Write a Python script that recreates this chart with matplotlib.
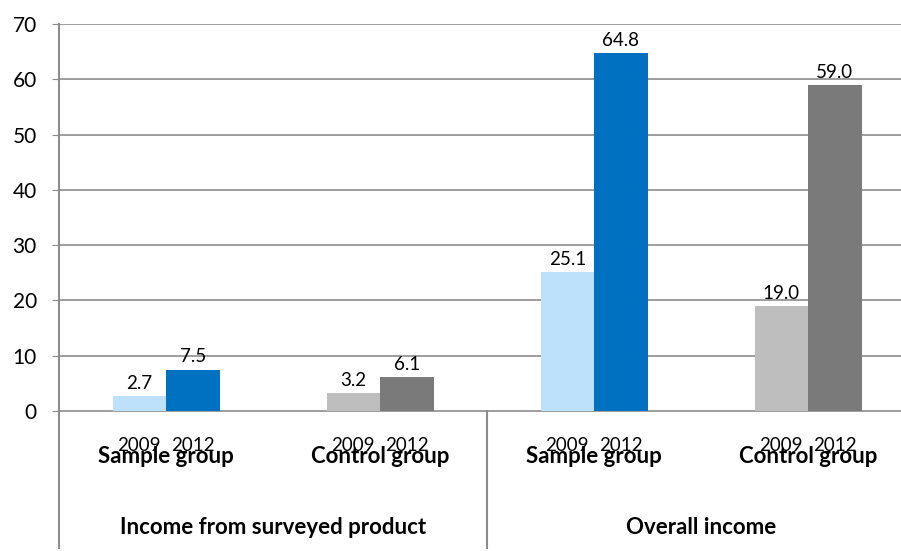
import matplotlib.pyplot as plt
import numpy as np

# data
groups = ["Income from surveyed product", "Overall income"]
categories = ["Sample group", "Control group", "Sample group", "Control group"]
years = ["2009", "2012"]
values_2009 = [2.7, 3.2, 25.1, 19.0]
values_2012 = [7.5, 6.1, 64.8, 59.0]

light = ["#BDE1FB", "#BEBEBE", "#BDE1FB", "#BEBEBE"]
dark = ["#0070C0", "#7A7A7A", "#0070C0", "#7A7A7A"]
grid_col = "#8C8C8C"

plt.rcParams['font.family'] = ['Lato', 'DejaVu Sans']

fig = plt.figure(figsize=(9.01, 5.51), dpi=100)
ax = fig.add_axes([59 / 901, 140 / 551, 842 / 901, 387 / 551])

x = np.arange(len(categories))
w = 0.25
b1 = ax.bar(x - w / 2, values_2009, w, color=light, zorder=3)
b2 = ax.bar(x + w / 2, values_2012, w, color=dark, zorder=3)

for bars, vals in ((b1, values_2009), (b2, values_2012)):
    for r, v in zip(bars, vals):
        ax.annotate(f"{v:.1f}", (r.get_x() + r.get_width() / 2, v),
                    xytext=(0, 3), textcoords="offset points",
                    ha="center", va="bottom", fontsize=13.5, zorder=4)

ax.set_xlim(-0.5, -0.5 + 842 / 214)
ax.set_ylim(0, 70)
ax.set_yticks(range(0, 71, 10))
ax.tick_params(axis="y", length=5, color=grid_col, labelsize=15, pad=11)
ax.tick_params(axis="x", bottom=False, labelbottom=False)
for yv in range(10, 71, 10):
    ax.axhline(yv, color=grid_col, lw=1.2, zorder=1)

for s in ("top", "right"):
    ax.spines[s].set_visible(False)
ax.spines["bottom"].set_color(grid_col)
ax.spines["bottom"].set_linewidth(1.2)
ax.spines["left"].set_visible(False)

tr = ax.get_xaxis_transform()
ax.plot([-0.5, -0.5], [1, -0.354], transform=tr, color=grid_col, lw=1.5, clip_on=False)
ax.plot([1.5, 1.5], [0, -0.354], transform=tr, color=grid_col, lw=1.5, clip_on=False)

for i, cat in enumerate(categories):
    ax.text(i - w / 2, -0.088, years[0], transform=tr, ha="center", va="center", fontsize=13.5)
    ax.text(i + w / 2, -0.088, years[1], transform=tr, ha="center", va="center", fontsize=13.5)
    ax.text(i, -0.117, cat, transform=tr, ha="center", va="center",
            fontsize=16, fontweight="bold")

for j, g in enumerate(groups):
    ax.text(2 * j + 0.5, -0.30, g, transform=tr, ha="center", va="center",
            fontsize=16, fontweight="bold")

fig.savefig("out.png", dpi=100)
